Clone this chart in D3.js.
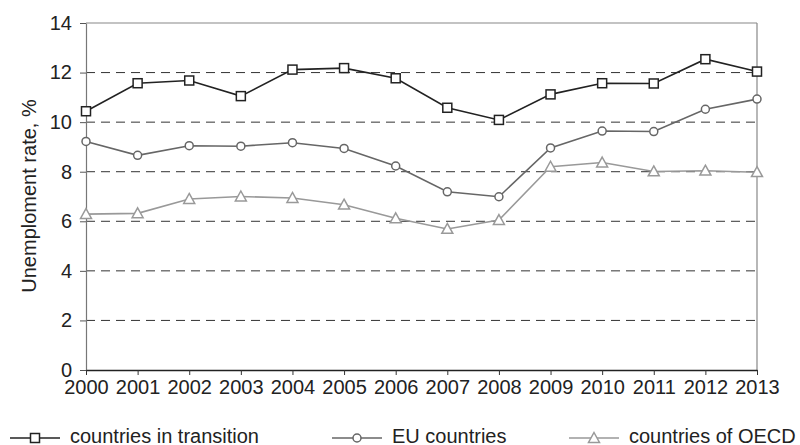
<!DOCTYPE html>
<html>
<head>
<meta charset="utf-8">
<script src="https://cdn.jsdelivr.net/npm/d3@7"></script>
<style>
  body { margin: 0; background: #fff; }
  svg { display: block; font-family: "Liberation Sans", Arial, sans-serif; }
</style>
</head>
<body>
<svg id="chart" width="800" height="445"></svg>
<script>
var years = [2000, 2001, 2002, 2003, 2004, 2005, 2006, 2007, 2008, 2009, 2010, 2011, 2012, 2013];
var transition = [10.44, 11.57, 11.68, 11.05, 12.12, 12.18, 11.77, 10.58, 10.09, 11.12, 11.57, 11.56, 12.54, 12.04];
var eu = [9.22, 8.66, 9.05, 9.03, 9.17, 8.94, 8.23, 7.19, 6.99, 8.96, 9.64, 9.62, 10.52, 10.93];
var oecd = [6.29, 6.32, 6.90, 7.00, 6.94, 6.67, 6.12, 5.69, 6.05, 8.20, 8.37, 8.01, 8.04, 7.98];
var yTicks = [0, 2, 4, 6, 8, 10, 12, 14];

var series = [
  {name: 'countries in transition', values: transition, color: '#222', marker: 'square', lx: 10},
  {name: 'EU countries', values: eu, color: '#666', marker: 'circle', lx: 332},
  {name: 'countries of OECD', values: oecd, color: '#999', marker: 'triangle', lx: 569}
];

var svg = d3.select('#chart');
var pLeft = 86, pRight = 757, pTop = 23, pBottom = 370;

var x = d3.scaleLinear().domain([2000, 2013]).range([pLeft, pRight]);
var y = d3.scaleLinear().domain([0, 14]).range([pBottom, pTop]);

// dashed grid
svg.append('g').selectAll('line')
  .data(yTicks.filter(function(d){ return d > 0 && d < 14; }))
  .enter().append('line')
  .attr('x1', pLeft).attr('x2', pRight)
  .attr('y1', function(d){ return y(d); }).attr('y2', function(d){ return y(d); })
  .attr('stroke', '#333').attr('stroke-width', 1)
  .attr('stroke-dasharray', '9,6');

// frame top + right
svg.append('line').attr('x1', pLeft).attr('x2', pRight).attr('y1', pTop).attr('y2', pTop)
  .attr('stroke', '#888').attr('stroke-width', 1.2);
svg.append('line').attr('x1', pRight).attr('x2', pRight).attr('y1', pTop).attr('y2', pBottom)
  .attr('stroke', '#888').attr('stroke-width', 1.2);

// y axis
var yAxis = svg.append('g')
  .attr('transform', 'translate(' + pLeft + ',0)')
  .call(d3.axisLeft(y).tickValues(yTicks).tickSize(6).tickPadding(8).tickSizeOuter(0));
yAxis.select('.domain').attr('stroke', '#777').attr('stroke-width', 1.2);
yAxis.selectAll('.tick line').attr('stroke', '#555');
yAxis.selectAll('text').attr('font-size', 20).attr('fill', '#222')
  .attr('font-family', '"Liberation Sans", Arial, sans-serif');

// x axis
var xAxis = svg.append('g')
  .attr('transform', 'translate(0,' + pBottom + ')')
  .call(d3.axisBottom(x).tickValues(years).tickFormat(d3.format('d')).tickSize(5).tickPadding(5).tickSizeOuter(0));
xAxis.select('.domain').attr('stroke', '#222').attr('stroke-width', 1.3);
xAxis.selectAll('.tick line').attr('stroke', '#333');
xAxis.selectAll('text').attr('font-size', 20).attr('fill', '#222')
  .attr('font-family', '"Liberation Sans", Arial, sans-serif');

// axis title
svg.append('text')
  .attr('transform', 'translate(36,196) rotate(-90)')
  .attr('text-anchor', 'middle')
  .attr('font-size', 20).attr('fill', '#222')
  .text('Unemploment rate, %');

function drawMarker(g, type, cx, cy, color) {
  if (type == 'square') {
    g.append('rect').attr('x', cx - 4.5).attr('y', cy - 4.5).attr('width', 9).attr('height', 9)
      .attr('fill', '#fff').attr('stroke', color).attr('stroke-width', 1.5);
  } else if (type == 'circle') {
    g.append('circle').attr('cx', cx).attr('cy', cy).attr('r', 4)
      .attr('fill', '#fff').attr('stroke', color).attr('stroke-width', 1.5);
  } else {
    var s = 5.5;
    g.append('path')
      .attr('d', 'M' + cx + ',' + (cy - s) + 'L' + (cx + s) + ',' + (cy + s * 0.8) + 'L' + (cx - s) + ',' + (cy + s * 0.8) + 'Z')
      .attr('fill', '#fff').attr('stroke', color).attr('stroke-width', 1.5);
  }
}

var line = d3.line()
  .x(function(d, i){ return x(years[i]); })
  .y(function(d){ return y(d); });

// draw lowest series first so the black one sits on top
series.slice().reverse().forEach(function(s){
  var g = svg.append('g');
  g.append('path').attr('d', line(s.values))
    .attr('fill', 'none').attr('stroke', s.color).attr('stroke-width', 1.6);
  s.values.forEach(function(v, i){
    drawMarker(g, s.marker, x(years[i]), y(v), s.color);
  });
});

// legend
var ly = 438;
series.forEach(function(s){
  var g = svg.append('g');
  g.append('line').attr('x1', s.lx).attr('x2', s.lx + 50).attr('y1', ly).attr('y2', ly)
    .attr('stroke', s.color).attr('stroke-width', 1.6);
  drawMarker(g, s.marker, s.lx + 25, ly, s.color);
  g.append('text').attr('x', s.lx + 60).attr('y', ly + 5)
    .attr('font-size', 20).attr('fill', '#222').text(s.name);
});
</script>
</body>
</html>
